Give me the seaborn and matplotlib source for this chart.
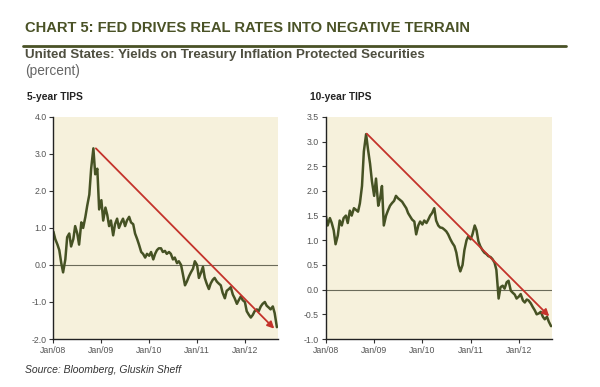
import pandas as pd
import matplotlib
matplotlib.use('Agg')
import matplotlib.pyplot as plt
import matplotlib.dates as mdates
import seaborn as sns


############### Data (semi-monthly readings, Jan 2008 - Sep 2012)
dates = pd.date_range('2008-01-01', '2012-09-01', freq='SMS')

tips_5y = [
    0.90, 0.70, 0.55, 0.40, 0.05, -0.20, 0.15, 0.75, 0.85, 0.50,
    0.70, 1.05, 0.85, 0.55, 1.15, 1.00, 1.30, 1.60, 1.90, 2.60,
    3.15, 2.45, 2.60, 1.50, 1.75, 1.20, 1.55, 1.35, 1.05, 1.20,
    0.80, 1.10, 1.25, 1.00, 1.15, 1.25, 1.05, 1.20, 1.30, 1.15,
    1.10, 0.85, 0.70, 0.55, 0.35, 0.30, 0.20, 0.30, 0.25, 0.35,
    0.15, 0.30, 0.40, 0.45, 0.45, 0.35, 0.38, 0.30, 0.35, 0.30,
    0.15, 0.20, 0.05, 0.10, 0.00, -0.25, -0.55, -0.45, -0.30, -0.20,
    -0.10, 0.10, 0.00, -0.35, -0.20, -0.05, -0.35, -0.50, -0.65, -0.50,
    -0.40, -0.35, -0.45, -0.50, -0.55, -0.75, -0.90, -0.70, -0.65, -0.60,
    -0.80, -0.90, -1.05, -0.95, -0.85, -0.95, -1.00, -1.25, -1.35, -1.42,
    -1.35, -1.25, -1.20, -1.25, -1.12, -1.05, -1.00, -1.10, -1.15, -1.20,
    -1.12, -1.30, -1.68,
]

tips_10y = [
    1.50, 1.30, 1.45, 1.35, 1.20, 0.92, 1.10, 1.40, 1.30, 1.45,
    1.50, 1.35, 1.60, 1.50, 1.65, 1.62, 1.58, 1.75, 2.10, 2.80,
    3.15, 2.85, 2.55, 2.20, 1.90, 2.25, 1.70, 1.85, 2.10, 1.30,
    1.50, 1.60, 1.70, 1.75, 1.80, 1.90, 1.85, 1.82, 1.78, 1.72,
    1.65, 1.55, 1.48, 1.42, 1.38, 1.12, 1.30, 1.38, 1.32, 1.40,
    1.35, 1.42, 1.50, 1.55, 1.65, 1.40, 1.30, 1.26, 1.25, 1.22,
    1.18, 1.12, 1.02, 0.95, 0.88, 0.75, 0.50, 0.37, 0.50, 0.80,
    1.00, 1.08, 1.02, 1.12, 1.30, 1.20, 0.98, 0.88, 0.80, 0.75,
    0.72, 0.68, 0.66, 0.62, 0.55, 0.40, -0.18, 0.05, 0.08, 0.02,
    0.15, 0.18, -0.02, -0.06, -0.10, -0.18, -0.14, -0.09, -0.22, -0.26,
    -0.20, -0.22, -0.28, -0.35, -0.42, -0.50, -0.48, -0.45, -0.55, -0.60,
    -0.55, -0.65, -0.74,
]

# trend arrows (start date, start value, end date, end value)
arrow_5y = ['2008-11-20', 3.15, '2012-08-12', -1.72]
arrow_10y = ['2008-11-06', 3.16, '2012-08-18', -0.54]

panel_titles = ['5-year TIPS', '10-year TIPS']
ylims = [(-2.0, 4.0), (-1.0, 3.5)]
ysteps = [1.0, 0.5]

olive = '#4a5226'
line_col = '#465224'
red = '#c4332b'
bg = '#f6f1dc'

df = pd.DataFrame({'date': dates, '5y': tips_5y, '10y': tips_10y})

fig = plt.figure(figsize=(6, 3.87), dpi=100)
sns.set_style('white')
plt.rcParams['font.family'] = ['Liberation Sans', 'DejaVu Sans']

ax1 = fig.add_axes([0.089, 0.124, 0.374, 0.574])
ax2 = fig.add_axes([0.543, 0.124, 0.377, 0.574])

for ax, col, arr, title, title_x, ylim, step in zip(
        [ax1, ax2], ['5y', '10y'], [arrow_5y, arrow_10y], panel_titles,
        [27, 310], ylims, ysteps):
    ax.set_facecolor(bg)
    ax.axhline(0, color='#6b6b5a', lw=0.8, zorder=1)
    sns.lineplot(data=df, x='date', y=col, ax=ax, color=line_col, lw=1.8, zorder=2)
    ax.annotate('', xy=(mdates.datestr2num(arr[2]), arr[3]),
                xytext=(mdates.datestr2num(arr[0]), arr[1]),
                arrowprops=dict(arrowstyle='-|>', color=red, lw=1.3,
                                mutation_scale=10, shrinkA=0, shrinkB=0),
                zorder=3)
    ax.set_xlim(pd.Timestamp('2008-01-01'), pd.Timestamp('2012-09-08'))
    ax.set_ylim(*ylim)
    ticks = [ylim[0] + i * step for i in range(int(round((ylim[1] - ylim[0]) / step)) + 1)]
    ax.set_yticks(ticks)
    ax.set_yticklabels([f'{t:.1f}' for t in ticks])
    ax.xaxis.set_major_locator(mdates.YearLocator())
    ax.xaxis.set_minor_locator(mdates.MonthLocator(bymonth=[4, 7, 10]))
    ax.xaxis.set_major_formatter(mdates.DateFormatter('%b/%y'))
    ax.set_xlabel('')
    ax.set_ylabel('')
    for s in ['top', 'right']:
        ax.spines[s].set_visible(False)
    for s in ['left', 'bottom']:
        ax.spines[s].set_color('#222222')
        ax.spines[s].set_linewidth(1.0)
    ax.tick_params(axis='both', which='major', length=3, width=0.8, color='#333333',
                   labelsize=6.3, labelcolor='#555555', pad=2, direction='out')
    ax.tick_params(axis='x', which='minor', length=2, width=0.6, color='#333333',
                   direction='out')
    ax.tick_params(left=True, bottom=True)
    fig.text(title_x / 600, 1 - 97 / 387, title, fontsize=7.4,
             fontweight='bold', color='#222222', ha='left', va='center')

# header
fig.text(25 / 600, 1 - 28 / 387, 'CHART 5: FED DRIVES REAL RATES INTO NEGATIVE TERRAIN',
         fontsize=10.6, fontweight='bold', color=olive, va='center')
fig.add_artist(plt.Line2D([23 / 600, 566 / 600], [1 - 46 / 387] * 2,
                          color=olive, lw=2))
fig.text(25 / 600, 1 - 55 / 387,
         'United States: Yields on Treasury Inflation Protected Securities',
         fontsize=9.6, fontweight='bold', color='#4f4f40', va='center')
fig.text(25 / 600, 1 - 71 / 387, '(percent)', fontsize=9.8,
         color='#666666', va='center')
fig.text(25 / 600, 1 - 370 / 387, 'Source: Bloomberg, Gluskin Sheff',
         fontsize=7.5, style='italic', color='#333333', va='center')

plt.savefig('out.png', dpi=100)
